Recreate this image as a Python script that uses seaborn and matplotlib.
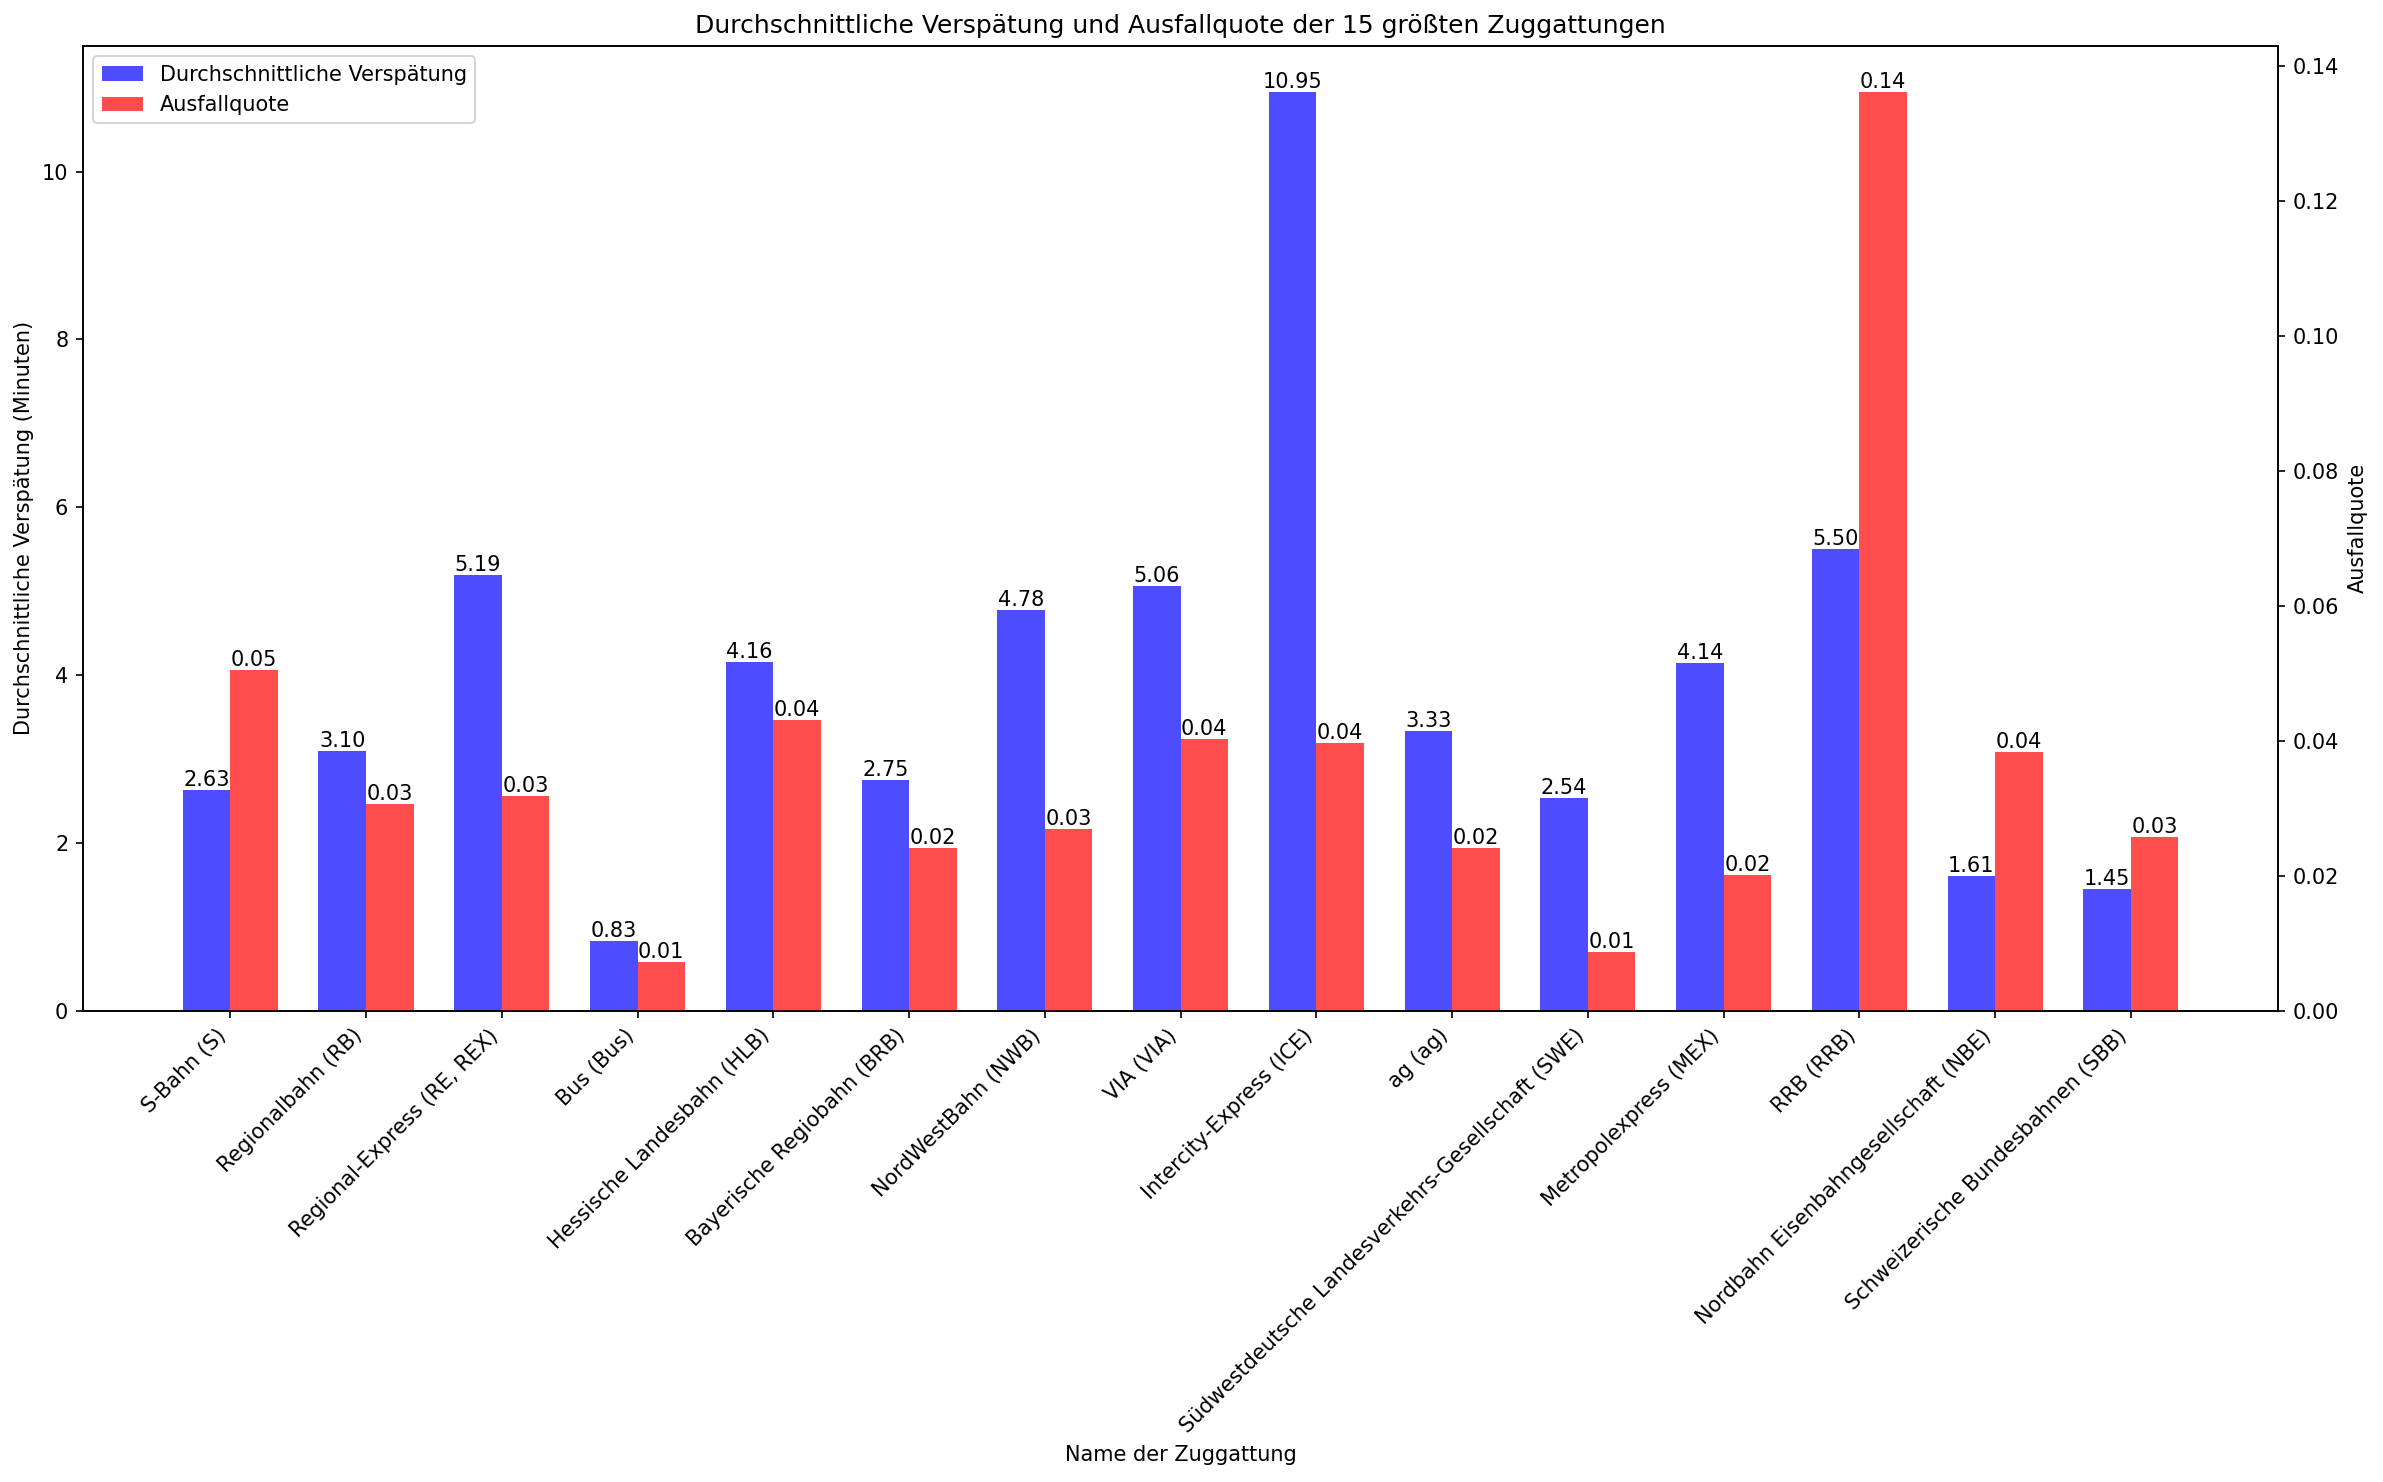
import matplotlib
matplotlib.use("Agg")
import matplotlib.pyplot as plt
import seaborn as sns
import pandas as pd

categories = [
    "S-Bahn (S)", "Regionalbahn (RB)", "Regional-Express (RE, REX)", "Bus (Bus)",
    "Hessische Landesbahn (HLB)", "Bayerische Regiobahn (BRB)", "NordWestBahn (NWB)",
    "VIA (VIA)", "Intercity-Express (ICE)", "ag (ag)",
    "Südwestdeutsche Landesverkehrs-Gesellschaft (SWE)", "Metropolexpress (MEX)",
    "RRB (RRB)", "Nordbahn Eisenbahngesellschaft (NBE)", "Schweizerische Bundesbahnen (SBB)",
]
verspaetung = [2.63, 3.10, 5.19, 0.83, 4.16, 2.75, 4.78, 5.06, 10.95, 3.33, 2.54, 4.14, 5.50, 1.61, 1.45]
ausfallquote = [0.0504, 0.0306, 0.0318, 0.0072, 0.0430, 0.0241, 0.0269, 0.0403, 0.0397,
                0.0241, 0.0087, 0.0201, 0.1361, 0.0383, 0.0258]

lab_v = "Durchschnittliche Verspätung"
lab_a = "Ausfallquote"
hue_order = [lab_v, lab_a]
palette = {lab_v: "#4d4dff", lab_a: "#ff4d4d"}

df_v = pd.DataFrame({"cat": categories, "val": verspaetung, "serie": lab_v})
df_a = pd.DataFrame({"cat": categories, "val": ausfallquote, "serie": lab_a})

fig, ax1 = plt.subplots(figsize=(2383 / 150, 1482 / 150), dpi=150)
ax2 = ax1.twinx()

sns.barplot(data=df_v, x="cat", y="val", hue="serie", hue_order=hue_order, order=categories,
            palette=palette, width=0.7, dodge=True, errorbar=None, legend=False, ax=ax1,
            saturation=1)
sns.barplot(data=df_a, x="cat", y="val", hue="serie", hue_order=hue_order, order=categories,
            palette=palette, width=0.7, dodge=True, errorbar=None, legend=False, ax=ax2,
            saturation=1)

cont_v = [c for c in ax1.containers if len(c) > 0][0]
cont_a = [c for c in ax2.containers if len(c) > 0][0]
ax1.bar_label(cont_v, fmt="%.2f", fontsize=10)
ax2.bar_label(cont_a, fmt="%.2f", fontsize=10)

n = len(categories)
span = (n - 1) + 0.7
ax1.set_xlim(-0.35 - 0.05 * span, n - 1 + 0.35 + 0.05 * span)
ax1.set_ylim(0, max(verspaetung) * 1.05)
ax2.set_ylim(0, max(ausfallquote) * 1.05)

ax1.set_xticks(range(n))
ax1.set_xticklabels(categories, rotation=45, ha="right")
ax1.set_xlabel("Name der Zuggattung")
ax1.set_ylabel("Durchschnittliche Verspätung (Minuten)")
ax2.set_ylabel("Ausfallquote")
ax1.set_title("Durchschnittliche Verspätung und Ausfallquote der 15 größten Zuggattungen")

ax1.legend([cont_v, cont_a], [lab_v, lab_a], loc="upper left")

fig.subplots_adjust(left=0.0348, right=0.956, top=0.969, bottom=0.318)
fig.savefig("out.png", dpi=150)
